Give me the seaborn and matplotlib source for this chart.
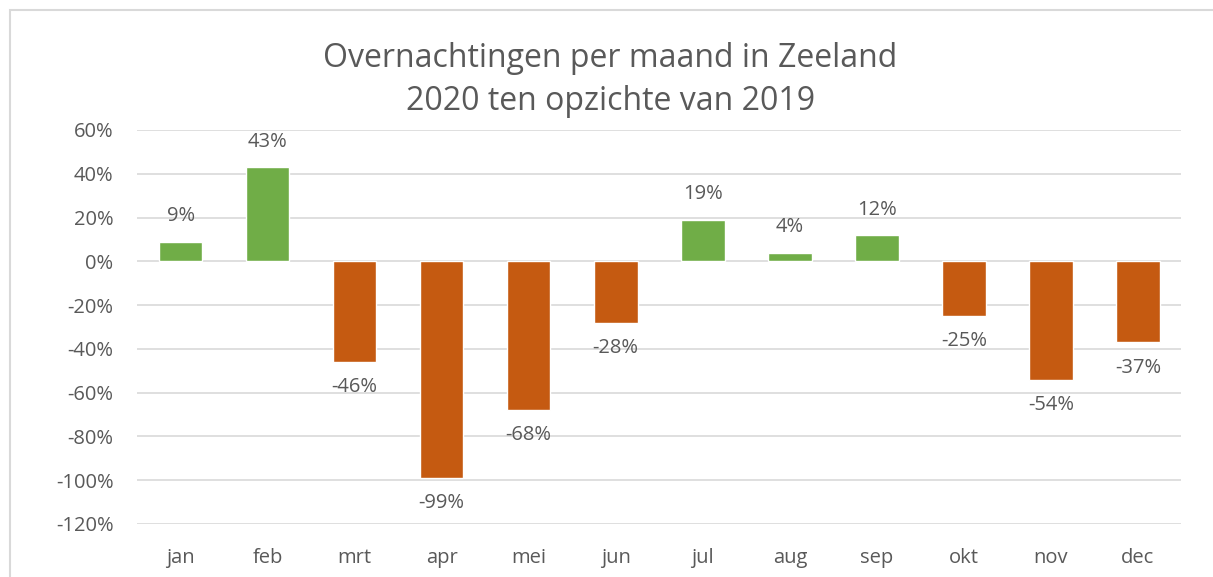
import numpy as np
import pandas as pd
import seaborn as sns
import matplotlib.pyplot as plt
from matplotlib.patches import Rectangle
from matplotlib.ticker import FuncFormatter

# data
maanden = ['jan', 'feb', 'mrt', 'apr', 'mei', 'jun', 'jul', 'aug', 'sep', 'okt', 'nov', 'dec']
verschil = [9, 43, -46, -99, -68, -28, 19, 4, 12, -25, -54, -37]

groen = '#70AD47'
oranje = '#C55A11'
grijs = '#595959'

df = pd.DataFrame({'maand': maanden, 'verschil': verschil})
kleuren = [groen if v >= 0 else oranje for v in verschil]

sns.set_style('white')
plt.rcParams['font.family'] = ['Open Sans', 'DejaVu Sans']

fig = plt.figure(figsize=(12.13, 5.77), dpi=100)
ax = fig.add_axes([0.113, 0.0919, 0.861, 0.6828])

sns.barplot(data=df, x='maand', y='verschil', hue='maand', palette=kleuren,
            width=0.5, legend=False, ax=ax, saturation=1)

ax.set_ylim(-120, 60)
ax.set_yticks(np.arange(-120, 61, 20))
ax.yaxis.set_major_formatter(FuncFormatter(lambda v, p: f'{int(v)}%'))
ax.grid(axis='y', color='#D9D9D9', lw=1.2)
ax.set_axisbelow(True)
for s in ax.spines.values():
    s.set_visible(False)
ax.tick_params(axis='both', length=0, labelsize=14.5, labelcolor=grijs)
ax.tick_params(axis='y', pad=17)
ax.tick_params(axis='x', pad=17)
ax.set_xlabel('')
ax.set_ylabel('')

# labels bij de staven
for i, v in enumerate(verschil):
    off = 11 if v >= 0 else -11
    ax.annotate(f'{v}%', (i, v), xytext=(0, off), textcoords='offset points',
                ha='center', va='bottom' if v >= 0 else 'top',
                fontsize=14.5, color=grijs)

fig.text(0.503, 0.861, 'Overnachtingen per maand in Zeeland\n2020 ten opzichte van 2019',
         ha='center', va='center', fontsize=23, color=grijs, linespacing=1.4)

# kader om de grafiek
fig.patches.append(Rectangle((0.0082, -0.1), 1.5, 1.0827, transform=fig.transFigure,
                             fill=False, edgecolor='#D9D9D9', lw=1.5))

fig.savefig('out.png', dpi=100)
